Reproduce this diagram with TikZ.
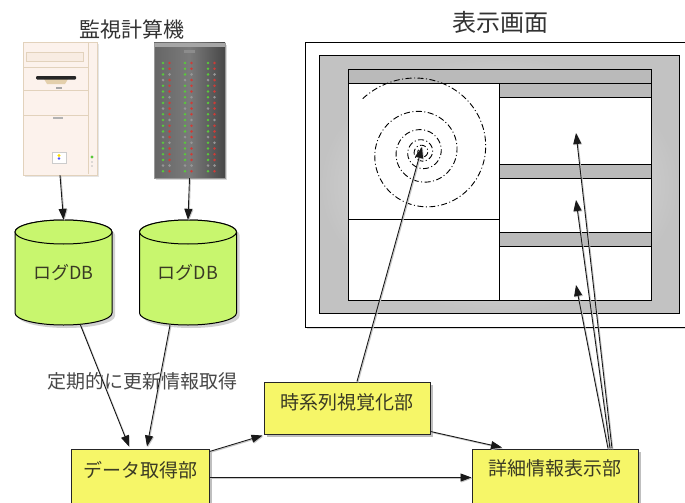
\documentclass[tikz,border=0pt]{standalone}
\usepackage{fontspec}
\setmainfont{Noto Sans CJK JP}
\usetikzlibrary{arrows.meta,shadows,calc}

\definecolor{boxyellow}{RGB}{246,246,104}
\definecolor{boxtext}{RGB}{58,58,36}
\definecolor{dblime}{RGB}{200,246,110}
\definecolor{titlegray}{RGB}{50,50,50}
\definecolor{barg}{RGB}{186,186,186}
\definecolor{pcbody}{RGB}{252,242,236}
\definecolor{pcbay}{RGB}{248,236,226}
\definecolor{pcedge}{RGB}{226,210,188}
\definecolor{pctan}{RGB}{228,208,172}
\definecolor{ledgreen}{RGB}{90,200,60}
\definecolor{ledred}{RGB}{205,60,55}
\definecolor{ledoff}{RGB}{150,150,150}

\tikzset{
  box/.style={draw=black!85, line width=1pt, fill=boxyellow, text=boxtext,
    font=\fontsize{19}{22}\selectfont, inner xsep=0pt, inner ysep=0pt, anchor=base,
    drop shadow={shadow xshift=2.5pt, shadow yshift=-2.5pt, fill=black!50, opacity=0.5}},
  dbtext/.style={inner sep=0pt, text=boxtext, font=\fontsize{18}{21}\selectfont},
  link/.style={line width=0.9pt, draw=black!90, -{Triangle[length=11pt,width=8pt]},
    preaction={draw=black!22, line width=1.1pt,
      transform canvas={shift={(0.9pt,-0.9pt)}}}},
  panel/.style={draw=black, line width=1pt},
  title/.style={text=titlegray, inner sep=0pt},
}

\begin{document}
\begin{tikzpicture}[x=1pt,y=-1pt]
\useasboundingbox (0,0) rectangle (685,503);

% ---------- monitored machines ----------
\node[title, font=\fontsize{21}{24}\selectfont] (mtitle) at (132,29) {監視計算機};

% desktop tower
\node[minimum width=74pt, minimum height=133pt, inner sep=0pt] (pc) at (60,108.5) {};
\fill[black!10] (25,44) rectangle (99,177);
\draw[pcedge, fill=pcbody, line width=0.8pt] (23,42) rectangle (97,175);
\draw[pcedge, line width=0.7pt] (88,43) -- (88,174);
\draw[pcedge, fill=pcbay, line width=0.7pt] (26,52) rectangle (83,61);
\draw[pcedge, line width=0.7pt] (23,67) -- (88,67);
\fill[pctan] (44,79) -- (68,79) -- (65,84) -- (47,84) -- cycle;
\fill[black!85, rounded corners=1pt] (36,76) rectangle (76,79.5);
\fill[black!35] (56,87) rectangle (62,89);
\draw[pcedge, line width=0.7pt] (23,90) -- (88,90);
\draw[pcedge, line width=0.7pt] (23,115) -- (88,115);
\fill[black!30] (53,117) rectangle (63,118.5);
\draw[black!20, fill=white, line width=0.5pt] (52,152) rectangle (66,163);
\fill[yellow!80!orange] (59,155.5) circle[radius=1.6pt];
\fill[blue!70] (59,158.5) circle[radius=1.4pt];
\fill[ledgreen] (92,157) circle[radius=1.6pt];
\fill[black!25] (92,162) circle[radius=0.9pt];
\fill[black!25] (92,166) circle[radius=0.9pt];

% rack server
\node[minimum width=71pt, minimum height=135pt, inner sep=0pt] (srv) at (189.5,110.5) {};
\fill[black!15] (156,45) rectangle (227,180);
\shade[left color=black!60, right color=black!72, middle color=black!52] (154,43) rectangle (225,178);
\draw[black!40, line width=0.8pt] (154,43) rectangle (225,178);
\fill[black!35] (154.5,43.5) rectangle (224.5,47.5);
\fill[black!45] (184,50) rectangle (195,53);
\foreach \i in {0,...,19}{
  \pgfmathsetmacro{\yy}{63+5.7*\i}
  \pgfmathtruncatemacro{\a}{mod(\i,5)}
  \pgfmathtruncatemacro{\b}{mod(\i+2,4)}
  \ifnum\a=3 \def\lc{ledoff}\else\def\lc{ledgreen}\fi
  \ifnum\b=0 \def\rc{ledoff}\else\def\rc{ledred}\fi
  \foreach \cx in {163,185,208}{
    \fill[\lc] (\cx,\yy) circle[radius=1.4pt];
    \fill[\rc] (\cx+6.5,\yy) circle[radius=1.4pt];
  }
}

% ---------- log databases ----------
\foreach \cx in {63.5,188}{
  \fill[black!40, opacity=0.45, shift={(3,3)}]
    (\cx-48.5,232) -- (\cx-48.5,313)
    arc[start angle=180, end angle=360, x radius=48.5pt, y radius=12pt]
    -- (\cx+48.5,232) arc[start angle=0, end angle=180, x radius=48.5pt, y radius=12pt] -- cycle;
  \draw[line width=1pt, fill=dblime]
    (\cx-48.5,232) -- (\cx-48.5,313)
    arc[start angle=180, end angle=360, x radius=48.5pt, y radius=12pt]
    -- (\cx+48.5,232) arc[start angle=0, end angle=180, x radius=48.5pt, y radius=12pt] -- cycle;
  \draw[line width=1pt, fill=dblime] (\cx,232) ellipse[x radius=48.5pt, y radius=12pt];
}
\node[dbtext, minimum width=97pt, minimum height=105pt] (dbL) at (63.5,272.5) {ログDB};
\node[dbtext, minimum width=97pt, minimum height=105pt] (dbR) at (188,272.5) {ログDB};

% ---------- display screen ----------
\node[title, font=\fontsize{24}{28}\selectfont] (stitle) at (500,22) {表示画面};
\fill[black!15] (307,45) rectangle (694,329);
\draw[panel, fill=white] (305,43) rectangle (692,327);
\shade[inner color=gray!12, outer color=gray!48] (319,56) rectangle (679,313);
\draw[panel] (319,56) rectangle (679,313);
\draw[panel, fill=white] (348,70) rectangle (651,300);
\draw[panel, fill=barg] (348,70) rectangle (651,83);
\draw[panel] (499,83) -- (499,300);
\draw[panel] (348,219) -- (499,219);
\draw[panel, fill=barg] (499,83) rectangle (651,97);
\draw[panel, fill=barg] (499,164) rectangle (651,178);
\draw[panel, fill=barg] (499,232) rectangle (651,246);

% time-series spiral (logarithmic, winding inwards)
\draw[line width=0.9pt, dash pattern=on 6pt off 2.5pt on 1pt off 2.5pt]
  plot[domain=222:2080, samples=900, variable=\t]
  ({422+47*exp(-0.00166*(\t-540))*cos(\t)}, {152+47*exp(-0.00166*(\t-540))*sin(\t)});

\coordinate (spc) at (422,147);
\coordinate (t1) at (576,133);
\coordinate (t2) at (576,200);
\coordinate (t3) at (576,285);

% ---------- processing blocks ----------
\node[box, minimum width=138pt, text height=28pt, text depth=29pt] (data) at (140,477) {データ取得部};
\node[box, minimum width=166pt, text height=27pt, text depth=25pt] (vis) at (347,409) {時系列視覚化部};
\node[box, minimum width=166pt, text height=26pt, text depth=31pt] (detail) at (555,475) {詳細情報表示部};

\node[text=black!72, inner sep=0pt, font=\fontsize{19}{22}\selectfont] (poll) at (142,381) {定期的に更新情報取得};

% ---------- connectors ----------
\draw[link] (pc.south) -- (dbL.north);
\draw[link] (srv.south) -- (dbR.north);
\draw[link] ([xshift=17pt]dbL.south) -- ([xshift=-11pt,yshift=2pt]data.north);
\draw[link] ([xshift=-18pt]dbR.south) -- ([xshift=7pt,yshift=2pt]data.north);
\draw[link] ([yshift=-3pt]data.north east) -- ([xshift=-1pt,yshift=-1pt]vis.south west);
\draw[link] (data.east) -- (detail.west);
\draw[link] ([yshift=3pt]vis.south east) -- ([xshift=-53pt,yshift=1pt]detail.north);
\draw[link] ([xshift=10pt]vis.north) -- (spc);
\draw[link] ([xshift=57pt]detail.north) -- (t1);
\draw[link] ([xshift=55pt]detail.north) -- (t2);
\draw[link] ([xshift=53pt]detail.north) -- (t3);
\end{tikzpicture}
\end{document}
